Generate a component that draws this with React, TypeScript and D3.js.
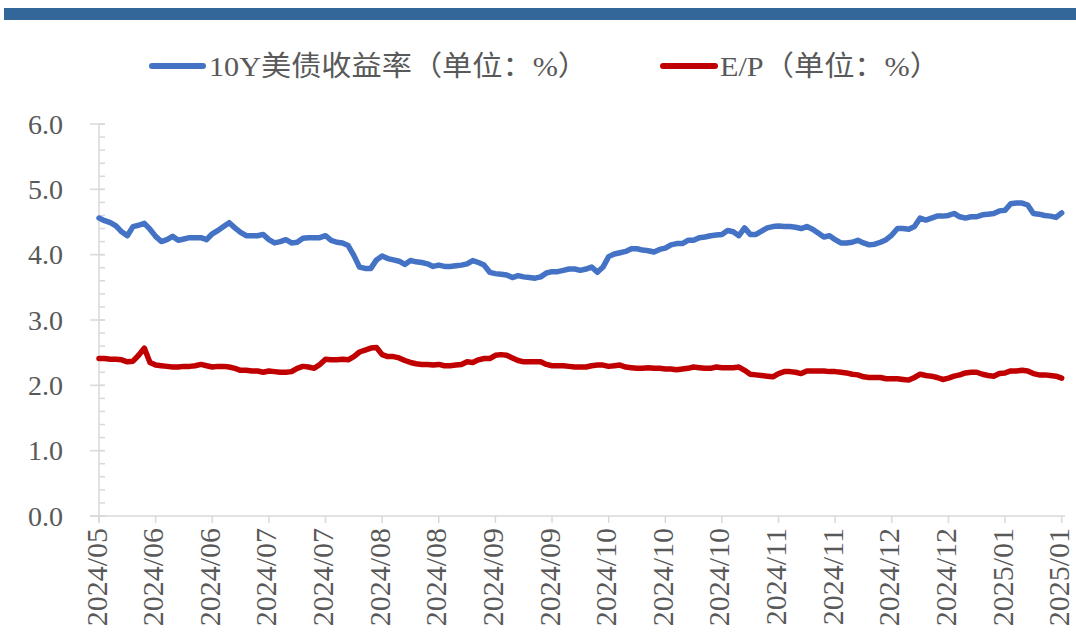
import React from "react";
import * as d3 from "d3";

const tickLabels = [
  "2024/05", "2024/06", "2024/06", "2024/07", "2024/07", "2024/08", "2024/08", "2024/09", "2024/09",
  "2024/10", "2024/10", "2024/10", "2024/11", "2024/11", "2024/12", "2024/12", "2025/01", "2025/01",
];

const yieldSeries = [
  4.56, 4.52, 4.49, 4.44, 4.35, 4.29, 4.43, 4.45, 4.48, 4.39,
  4.28, 4.20, 4.23, 4.28, 4.22, 4.24, 4.26, 4.26, 4.26, 4.23,
  4.32, 4.37, 4.43, 4.49, 4.41, 4.34, 4.29, 4.29, 4.29, 4.31,
  4.23, 4.18, 4.20, 4.23, 4.18, 4.19, 4.25, 4.26, 4.26, 4.26,
  4.29, 4.22, 4.19, 4.18, 4.14, 3.99, 3.81, 3.79, 3.79, 3.92,
  3.98, 3.94, 3.92, 3.90, 3.85, 3.91, 3.89, 3.88, 3.86, 3.82,
  3.84, 3.82, 3.82, 3.83, 3.84, 3.86, 3.91, 3.88, 3.84, 3.73,
  3.71, 3.70, 3.69, 3.65, 3.68, 3.66, 3.65, 3.64, 3.66, 3.72,
  3.74, 3.74, 3.76, 3.78, 3.78, 3.76, 3.78, 3.81, 3.73, 3.81,
  3.97, 4.01, 4.03, 4.05, 4.09, 4.09, 4.07, 4.06, 4.04, 4.08,
  4.10, 4.15, 4.17, 4.17, 4.22, 4.22, 4.26, 4.27, 4.29, 4.30,
  4.31, 4.37, 4.35, 4.29, 4.41, 4.31, 4.31, 4.36, 4.41, 4.43,
  4.44, 4.43, 4.43, 4.42, 4.40, 4.43, 4.39, 4.33, 4.27, 4.29,
  4.23, 4.18, 4.18, 4.19, 4.22, 4.18, 4.15, 4.16, 4.19, 4.23,
  4.30, 4.40, 4.40, 4.39, 4.43, 4.56, 4.53, 4.56, 4.59, 4.59,
  4.60, 4.63, 4.58, 4.56, 4.58, 4.58, 4.61, 4.62, 4.63, 4.67,
  4.68, 4.78, 4.79, 4.79, 4.76, 4.63, 4.62, 4.60, 4.59, 4.57,
  4.64,
];

const epSeries = [
  2.41, 2.41, 2.40, 2.40, 2.39, 2.36, 2.37, 2.46, 2.57, 2.35,
  2.31, 2.30, 2.29, 2.28, 2.28, 2.29, 2.29, 2.30, 2.32, 2.30,
  2.28, 2.29, 2.29, 2.28, 2.26, 2.23, 2.23, 2.22, 2.22, 2.20,
  2.22, 2.21, 2.20, 2.20, 2.21, 2.26, 2.29, 2.28, 2.26, 2.32,
  2.40, 2.39, 2.39, 2.40, 2.39, 2.44, 2.51, 2.54, 2.57, 2.58,
  2.47, 2.44, 2.44, 2.42, 2.38, 2.35, 2.33, 2.32, 2.32, 2.31,
  2.32, 2.30, 2.30, 2.31, 2.32, 2.36, 2.35, 2.39, 2.41, 2.41,
  2.46, 2.47, 2.46, 2.42, 2.38, 2.36, 2.36, 2.36, 2.36, 2.32,
  2.30, 2.30, 2.30, 2.29, 2.28, 2.28, 2.28, 2.30, 2.31, 2.31,
  2.29, 2.30, 2.31, 2.28, 2.27, 2.26, 2.26, 2.27, 2.26, 2.26,
  2.25, 2.25, 2.24, 2.25, 2.26, 2.28, 2.27, 2.26, 2.26, 2.28,
  2.27, 2.27, 2.27, 2.28, 2.23, 2.17, 2.16, 2.15, 2.14, 2.13,
  2.18, 2.21, 2.21, 2.20, 2.18, 2.22, 2.22, 2.22, 2.22, 2.21,
  2.21, 2.20, 2.19, 2.17, 2.16, 2.13, 2.12, 2.12, 2.12, 2.10,
  2.10, 2.10, 2.09, 2.08, 2.12, 2.17, 2.15, 2.14, 2.12, 2.09,
  2.11, 2.14, 2.16, 2.19, 2.20, 2.20, 2.17, 2.15, 2.14, 2.18,
  2.19, 2.22, 2.22, 2.23, 2.22, 2.18, 2.16, 2.16, 2.15, 2.14,
  2.11,
];

const yTicks = [0, 1, 2, 3, 4, 5, 6];
const seriesNames = ["10Y美债收益率（单位：%）", "E/P（单位：%）"];
const seriesColors = ["#4472C4", "#C00000"];

const W = 1076;
const H = 641;
const LABEL_EVERY = 10;

export default function App() {
  const n = yieldSeries.length;
  const x = d3.scaleLinear().domain([0, n - 1]).range([99, 1061.7]);
  const y = d3.scaleLinear().domain([0, 6]).range([516, 124]);
  const minorTicks = d3.range(0, 6.0001, 0.2);
  const line = d3
    .line<number>()
    .x((_, i) => x(i))
    .y((d) => y(d))
    .curve(d3.curveLinear);

  const axisColor = "#d9d9d9";
  const textColor = "#595959";
  const latinFont = "'Liberation Serif', 'Times New Roman', serif";
  const cjkFont = "'Liberation Serif', 'Noto Sans CJK SC', serif";

  return (
    <svg
      width={W}
      height={H}
      style={{ position: "absolute", left: 0, top: 0, display: "block", background: "#fff" }}
    >
      <rect x={4} y={8} width={W - 4} height={12} fill="#336699" />

      {/* legend */}
      <g>
        <line x1={152} x2={203} y1={66} y2={66} stroke={seriesColors[0]} strokeWidth={6} strokeLinecap="round" />
        <text
          x={209}
          y={66}
          dy="0.36em"
          fontSize={28}
          fill={textColor}
          fontFamily={cjkFont}
          textLength={379}
          lengthAdjust="spacingAndGlyphs"
        >
          {seriesNames[0]}
        </text>
        <line x1={663} x2={715} y1={66} y2={66} stroke={seriesColors[1]} strokeWidth={6} strokeLinecap="round" />
        <text
          x={720}
          y={66}
          dy="0.36em"
          fontSize={28}
          fill={textColor}
          fontFamily={cjkFont}
          textLength={220}
          lengthAdjust="spacingAndGlyphs"
        >
          {seriesNames[1]}
        </text>
      </g>

      {/* y axis */}
      <g stroke={axisColor} strokeWidth={1.5}>
        <line x1={99} x2={99} y1={y(6)} y2={523} />
        {minorTicks.map((t, i) => (
          <line key={"mi" + i} x1={99} x2={105} y1={y(t)} y2={y(t)} />
        ))}
        {yTicks.map((t) => (
          <line key={"ma" + t} x1={90} x2={105} y1={y(t)} y2={y(t)} />
        ))}
      </g>
      {yTicks.map((t) => (
        <text
          key={"yl" + t}
          x={63}
          y={y(t)}
          dy="0.35em"
          textAnchor="end"
          fontSize={28}
          fill={textColor}
          fontFamily={latinFont}
        >
          {t.toFixed(1)}
        </text>
      ))}

      {/* x axis */}
      <g stroke={axisColor} strokeWidth={1.5}>
        <line x1={90} x2={1065} y1={516} y2={516} />
        {tickLabels.map((_, k) => (
          <line key={"xt" + k} x1={x(k * LABEL_EVERY)} x2={x(k * LABEL_EVERY)} y1={516} y2={523} />
        ))}
      </g>
      {tickLabels.map((lab, k) => (
        <text
          key={"xl" + k}
          transform={`translate(${x(k * LABEL_EVERY)},528) rotate(-90)`}
          dy="0.25em"
          textAnchor="end"
          fontSize={30}
          fill={textColor}
          fontFamily={latinFont}
        >
          {lab}
        </text>
      ))}

      {/* series */}
      <path d={line(yieldSeries) || ""} fill="none" stroke={seriesColors[0]} strokeWidth={5.5} strokeLinejoin="round" strokeLinecap="round" />
      <path d={line(epSeries) || ""} fill="none" stroke={seriesColors[1]} strokeWidth={5.5} strokeLinejoin="round" strokeLinecap="round" />
    </svg>
  );
}
